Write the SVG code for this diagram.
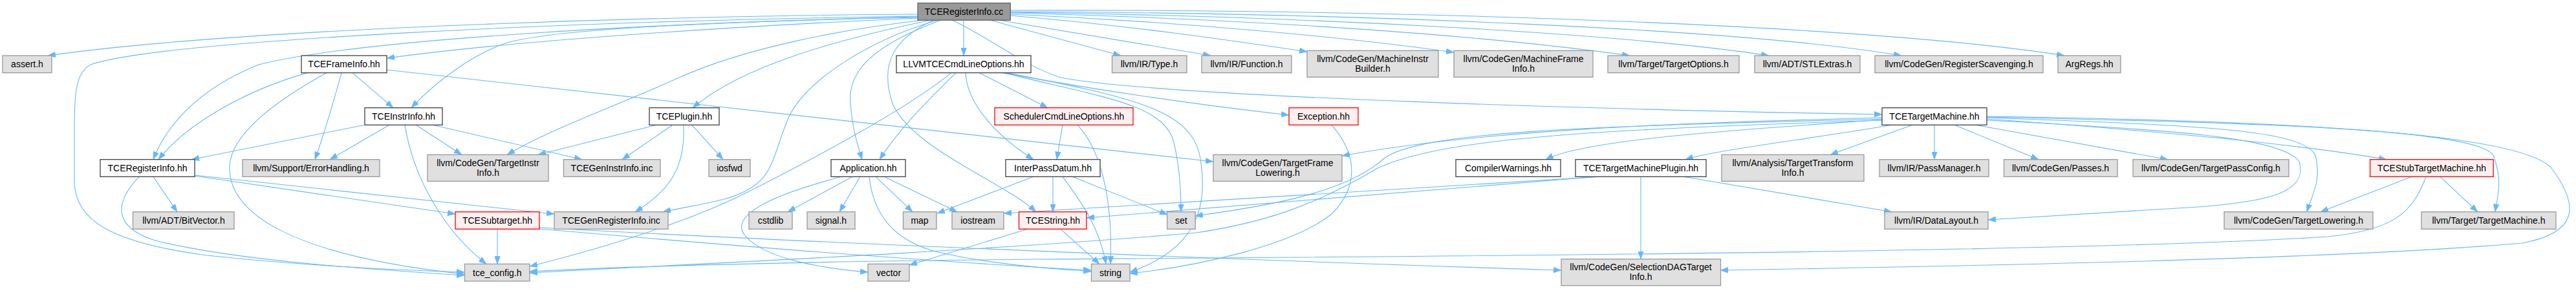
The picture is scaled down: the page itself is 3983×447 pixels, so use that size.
<svg xmlns="http://www.w3.org/2000/svg" width="3983" height="447" viewBox="0 0 3983 447">
<style>
.e{fill:none;stroke:#63B8FF;stroke-width:1.1;marker-end:url(#a)}
.n rect{fill:#FFFFFF;stroke:#404040;stroke-width:1.3}
.g rect{fill:#E0E0E0;stroke:#999999;stroke-width:1.3}
.r rect{fill:#FFF0F0;stroke:#FF0000;stroke-width:1.3}
.root rect{fill:#999999;stroke:#666666;stroke-width:1.3}
text{font-family:"Liberation Sans",Arial,sans-serif;font-size:14px;fill:#000;text-anchor:middle}
</style>
<defs>
<marker id="a" viewBox="0 0 12 9" refX="12" refY="4.5" markerWidth="12" markerHeight="9" markerUnits="userSpaceOnUse" orient="auto">
<path d="M0,0 L12,4.5 L0,9 z" fill="#63B8FF" stroke="#63B8FF" stroke-width="0.5"/>
</marker>
</defs>
<rect width="3983" height="447" fill="#FFFFFF"/>
<g id="edges">
<path class="e" d="M1419,22 C1100,24 400,40 74,86"/>
<path class="e" d="M1419,25 C900,32 250,62 140,100 C118,112 115,140 115,200 L115,280 C115,340 170,375 320,395 C480,412 620,418 718,421"/>
<path class="e" d="M1419,27 C1000,35 550,62 400,100 C300,140 255,200 237,246.7"/>
<path class="e" d="M1419,28 C1150,40 800,62 598,90"/>
<path class="e" d="M1419,26 C1100,34 850,45 781,67 C730,85 675,125 636,166.7"/>
<path class="e" d="M1430,31 C1300,45 1150,75 1050,120 C950,165 850,200 784,239.3"/>
<path class="e" d="M1440,31 C1300,60 1150,100 1071,166.7"/>
<path class="e" d="M1450,31 C1350,60 1250,120 1220,180 C1190,250 1200,285 1120,308 C1080,318 1050,322 1025,327.7"/>
<path class="e" d="M1455,31 C1350,70 1310,110 1315,160 C1318,200 1326,225 1333,246.7"/>
<path class="e" d="M1444,31 C1380,60 1360,100 1380,160 C1410,230 1550,280 1602,327.7"/>
<path class="e" d="M1490,31.3 L1490,86"/>
<path class="e" d="M1531,31.3 L1733,86"/>
<path class="e" d="M1545,31.3 L1872,86"/>
<path class="e" d="M1562,24 C1750,40 1900,62 2021,80"/>
<path class="e" d="M1562,22 C1850,35 2100,60 2248,81"/>
<path class="e" d="M1562,20 C1950,30 2300,55 2520,86"/>
<path class="e" d="M1562,19 C2000,25 2500,50 2735,86"/>
<path class="e" d="M1562,18 C2100,20 2700,45 2940,86"/>
<path class="e" d="M1562,16 C2200,14 2900,40 3192,86"/>
<path class="e" d="M1473,31.3 C1550,70 1580,100 1640,120 C1800,150 2500,170 2910,177"/>
<path class="e" d="M475,112.6 C380,140 290,190 245,246.7"/>
<path class="e" d="M505,112.6 C420,160 355,210 355,260 C355,330 450,395 718,424"/>
<path class="e" d="M528,112.6 C515,160 500,210 487,246.7"/>
<path class="e" d="M545,112.6 L608,166.7"/>
<path class="e" d="M598,108 L1876,250"/>
<path class="e" d="M564,193.3 L296,246.7"/>
<path class="e" d="M602,193.3 L510,246.7"/>
<path class="e" d="M626,193.3 C640,280 690,360 752,408.3"/>
<path class="e" d="M643,193.3 L714,239.3"/>
<path class="e" d="M669,193.3 L900,246.7"/>
<path class="e" d="M237,273.3 L274,327.7"/>
<path class="e" d="M215,273.3 C180,310 170,350 240,372 C360,402 560,416 718,426"/>
<path class="e" d="M301,272 L704,331"/>
<path class="e" d="M301,271 L857,331"/>
<path class="e" d="M769,354.3 L769,408.3"/>
<path class="e" d="M834,352 C1300,378 2000,405 2414,418"/>
<path class="e" d="M834,354 C1200,386 1500,408 1687,418"/>
<path class="e" d="M1015,193.3 L832,239.3"/>
<path class="e" d="M1040,193.3 L962,246.7"/>
<path class="e" d="M1057,193.3 C1060,260 1035,295 982,327.7"/>
<path class="e" d="M1070,193.3 L1118,246.7"/>
<path class="e" d="M1478,112.6 C1430,160 1390,200 1360,246.7"/>
<path class="e" d="M1471,112.6 C1400,170 1250,250 1150,300 C1050,350 900,392 819,412"/>
<path class="e" d="M1514,112.6 L1620,166.7"/>
<path class="e" d="M1493,112.6 C1495,160 1540,210 1598,246.7"/>
<path class="e" d="M1550,112.6 C1700,140 1850,162 1993,178"/>
<path class="e" d="M1552,112.6 C1700,150 1800,160 1815,220 C1825,262 1826,300 1826,327.7"/>
<path class="e" d="M1556,112.6 C1750,150 1840,170 1855,240 C1870,320 1850,385 1747,421"/>
<path class="e" d="M1643,193.3 L1634,246.7"/>
<path class="e" d="M1666,193.3 C1710,240 1720,330 1717,408.3"/>
<path class="e" d="M2059,193.3 C2100,240 2100,290 2060,330 C2000,380 1850,412 1747,423"/>
<path class="e" d="M1318,273.3 L1218,327.7"/>
<path class="e" d="M1330,273.3 L1298,327.7"/>
<path class="e" d="M1301,273.3 C1200,300 1130,330 1150,362 C1180,402 1280,416 1342,421"/>
<path class="e" d="M1354,273.3 L1411,327.7"/>
<path class="e" d="M1367,273.3 L1480,327.7"/>
<path class="e" d="M1344,273.3 C1350,330 1380,372 1450,390 C1550,412 1640,416 1687,420"/>
<path class="e" d="M1598,273.3 L1449,330"/>
<path class="e" d="M1628,273.3 L1628,327.7"/>
<path class="e" d="M1643,273.3 C1670,310 1700,350 1710,408.3"/>
<path class="e" d="M1658,273.3 L1805,332"/>
<path class="e" d="M1589,354.3 L1406,410"/>
<path class="e" d="M1640,354.3 L1700,408.3"/>
<path class="e" d="M2910,182 C2600,190 2300,200 2075,241"/>
<path class="e" d="M2912,185 C2700,200 2450,215 2390,246.7"/>
<path class="e" d="M2925,193.3 C2800,215 2650,232 2606,246.7"/>
<path class="e" d="M2957,193.3 L2830,239.3"/>
<path class="e" d="M2991,193.3 L2991,246.7"/>
<path class="e" d="M3022,193.3 L3152,246.7"/>
<path class="e" d="M3054,193.3 L3352,246.7"/>
<path class="e" d="M3072,184 C3300,200 3550,222 3690,246.7"/>
<path class="e" d="M3072,182 C3400,194 3560,200 3580,240 C3590,280 3575,300 3567,327.7"/>
<path class="e" d="M3072,186 C3350,200 3530,212 3555,250 C3570,300 3500,312 3400,320 C3250,330 3150,335 3074,340"/>
<path class="e" d="M3072,181 C3500,190 3830,200 3855,240 C3870,280 3862,300 3858,327.7"/>
<path class="e" d="M3072,180 C3600,188 3900,210 3945,260 C3990,320 3985,360 3900,376 C3600,402 3000,412 2660,418"/>
<path class="e" d="M2910,184 C2500,195 2200,200 2140,245 C2080,300 1950,320 1848,334"/>
<path class="e" d="M2910,186 C2500,200 2240,210 2130,260 C2030,320 1950,345 1850,360 C1500,390 1000,412 819,422"/>
<path class="e" d="M2537,273.3 L2537,400.7"/>
<path class="e" d="M2603,273.3 L2925,327.7"/>
<path class="e" d="M2474,273.3 L1552,330"/>
<path class="e" d="M2470,273.3 L1680,337"/>
<path class="e" d="M3729,273.3 L3588,327.7"/>
<path class="e" d="M3773,273.3 L3831,327.7"/>
<path class="e" d="M3751,273.3 C3730,330 3700,356 3600,366 C3200,392 2000,398 1600,401 C1200,405 950,413 819,420"/>
</g>
<g id="n_root" class="root"><rect x="1419" y="4.7" width="143.3" height="26.6"/><text x="1490.5" y="23">TCERegisterInfo.cc</text></g>
<g id="n_assert" class="g"><rect x="4" y="86" width="76" height="26.6"/><text x="42" y="104.3">assert.h</text></g>
<g id="n_frameinfo" class="n"><rect x="466" y="86" width="132" height="26.6"/><text x="532" y="104.3">TCEFrameInfo.hh</text></g>
<g id="n_llvmtcecmd" class="n"><rect x="1386" y="86" width="208" height="26.6"/><text x="1490" y="104.3">LLVMTCECmdLineOptions.hh</text></g>
<g id="n_type" class="g"><rect x="1719.5" y="86" width="115.5" height="26.6"/><text x="1777" y="104.3">llvm/IR/Type.h</text></g>
<g id="n_function" class="g"><rect x="1858" y="86" width="139" height="26.6"/><text x="1927.5" y="104.3">llvm/IR/Function.h</text></g>
<g id="n_mib" class="g"><rect x="2021" y="78.3" width="203" height="41"/><text x="2122.5" y="95.7">llvm/CodeGen/MachineInstr</text><text x="2122.5" y="110.7">Builder.h</text></g>
<g id="n_mfi" class="g"><rect x="2248" y="78.3" width="215" height="41"/><text x="2355.5" y="95.7">llvm/CodeGen/MachineFrame</text><text x="2355.5" y="110.7">Info.h</text></g>
<g id="n_targetoptions" class="g"><rect x="2486" y="86" width="203" height="26.6"/><text x="2587.5" y="104.3">llvm/Target/TargetOptions.h</text></g>
<g id="n_stlextras" class="g"><rect x="2713" y="86" width="163" height="26.6"/><text x="2794.5" y="104.3">llvm/ADT/STLExtras.h</text></g>
<g id="n_regscav" class="g"><rect x="2899" y="86" width="260" height="26.6"/><text x="3029" y="104.3">llvm/CodeGen/RegisterScavenging.h</text></g>
<g id="n_argregs" class="g"><rect x="3182" y="86" width="97" height="26.6"/><text x="3230.5" y="104.3">ArgRegs.hh</text></g>
<g id="n_instrinfo" class="n"><rect x="564" y="166.7" width="120" height="26.6"/><text x="624" y="185">TCEInstrInfo.hh</text></g>
<g id="n_plugin" class="n"><rect x="1004" y="166.7" width="108" height="26.6"/><text x="1058" y="185">TCEPlugin.hh</text></g>
<g id="n_schedcmd" class="r"><rect x="1538" y="166.7" width="214" height="26.6"/><text x="1645" y="185">SchedulerCmdLineOptions.hh</text></g>
<g id="n_exception" class="r"><rect x="1993" y="166.7" width="107" height="26.6"/><text x="2046.5" y="185">Exception.hh</text></g>
<g id="n_tcetm" class="n"><rect x="2910" y="166.7" width="162" height="26.6"/><text x="2991" y="185">TCETargetMachine.hh</text></g>
<g id="n_reginfo" class="n"><rect x="155" y="246.7" width="146" height="26.6"/><text x="228" y="265">TCERegisterInfo.hh</text></g>
<g id="n_errorhandling" class="g"><rect x="375" y="246.7" width="212" height="26.6"/><text x="481" y="265">llvm/Support/ErrorHandling.h</text></g>
<g id="n_targetinstrinfo" class="g"><rect x="661" y="239.3" width="187" height="41"/><text x="754.5" y="256.7">llvm/CodeGen/TargetInstr</text><text x="754.5" y="271.7">Info.h</text></g>
<g id="n_geninstrinfo" class="g"><rect x="871.5" y="246.7" width="149.5" height="26.6"/><text x="946" y="265">TCEGenInstrInfo.inc</text></g>
<g id="n_iosfwd" class="g"><rect x="1096" y="246.7" width="64" height="26.6"/><text x="1128" y="265">iosfwd</text></g>
<g id="n_application" class="n"><rect x="1285" y="246.7" width="115" height="26.6"/><text x="1342.5" y="265">Application.hh</text></g>
<g id="n_interpass" class="n"><rect x="1555" y="246.7" width="146" height="26.6"/><text x="1628" y="265">InterPassDatum.hh</text></g>
<g id="n_tfl" class="g"><rect x="1876" y="239.3" width="199" height="41"/><text x="1975.5" y="256.7">llvm/CodeGen/TargetFrame</text><text x="1975.5" y="271.7">Lowering.h</text></g>
<g id="n_compilerwarnings" class="n"><rect x="2251" y="246.7" width="162" height="26.6"/><text x="2332" y="265">CompilerWarnings.hh</text></g>
<g id="n_tmplugin" class="n"><rect x="2436" y="246.7" width="202" height="26.6"/><text x="2537" y="265">TCETargetMachinePlugin.hh</text></g>
<g id="n_tti" class="g"><rect x="2662" y="239.3" width="220" height="41"/><text x="2772" y="256.7">llvm/Analysis/TargetTransform</text><text x="2772" y="271.7">Info.h</text></g>
<g id="n_passmanager" class="g"><rect x="2906" y="246.7" width="169" height="26.6"/><text x="2990.5" y="265">llvm/IR/PassManager.h</text></g>
<g id="n_passes" class="g"><rect x="3098.5" y="246.7" width="175.5" height="26.6"/><text x="3186" y="265">llvm/CodeGen/Passes.h</text></g>
<g id="n_tpc" class="g"><rect x="3298" y="246.7" width="241" height="26.6"/><text x="3418.5" y="265">llvm/CodeGen/TargetPassConfig.h</text></g>
<g id="n_stubtm" class="r"><rect x="3664.6" y="246.7" width="190.6" height="26.6"/><text x="3760" y="265">TCEStubTargetMachine.hh</text></g>
<g id="n_bitvector" class="g"><rect x="205.5" y="327.7" width="156.5" height="26.6"/><text x="284" y="346">llvm/ADT/BitVector.h</text></g>
<g id="n_subtarget" class="r"><rect x="704" y="327.7" width="130" height="26.6"/><text x="769" y="346">TCESubtarget.hh</text></g>
<g id="n_genreginfo" class="g"><rect x="857" y="327.7" width="176" height="26.6"/><text x="945" y="346">TCEGenRegisterInfo.inc</text></g>
<g id="n_cstdlib" class="g"><rect x="1158" y="327.7" width="67" height="26.6"/><text x="1191.5" y="346">cstdlib</text></g>
<g id="n_signal" class="g"><rect x="1248" y="327.7" width="74" height="26.6"/><text x="1285" y="346">signal.h</text></g>
<g id="n_map" class="g"><rect x="1396.5" y="327.7" width="51.5" height="26.6"/><text x="1422" y="346">map</text></g>
<g id="n_iostream" class="g"><rect x="1472" y="327.7" width="80" height="26.6"/><text x="1512" y="346">iostream</text></g>
<g id="n_tcestring" class="r"><rect x="1575.5" y="327.7" width="104.5" height="26.6"/><text x="1628" y="346">TCEString.hh</text></g>
<g id="n_set" class="g"><rect x="1804.6" y="327.7" width="43.6" height="26.6"/><text x="1826.4" y="346">set</text></g>
<g id="n_datalayout" class="g"><rect x="2914" y="327.7" width="160" height="26.6"/><text x="2994" y="346">llvm/IR/DataLayout.h</text></g>
<g id="n_targetlowering" class="g"><rect x="3439" y="327.7" width="230" height="26.6"/><text x="3554" y="346">llvm/CodeGen/TargetLowering.h</text></g>
<g id="n_targetmachine" class="g"><rect x="3744" y="327.7" width="208" height="26.6"/><text x="3848" y="346">llvm/Target/TargetMachine.h</text></g>
<g id="n_tceconfig" class="g"><rect x="718.5" y="408.3" width="100.5" height="26.6"/><text x="768.75" y="426.6">tce_config.h</text></g>
<g id="n_vector" class="g"><rect x="1342" y="408.3" width="64" height="26.6"/><text x="1374" y="426.6">vector</text></g>
<g id="n_string" class="g"><rect x="1687.5" y="408.3" width="59.5" height="26.6"/><text x="1717" y="426.6">string</text></g>
<g id="n_sdti" class="g"><rect x="2414" y="400.7" width="246.5" height="41"/><text x="2537" y="418">llvm/CodeGen/SelectionDAGTarget</text><text x="2537" y="433">Info.h</text></g>
</svg>
